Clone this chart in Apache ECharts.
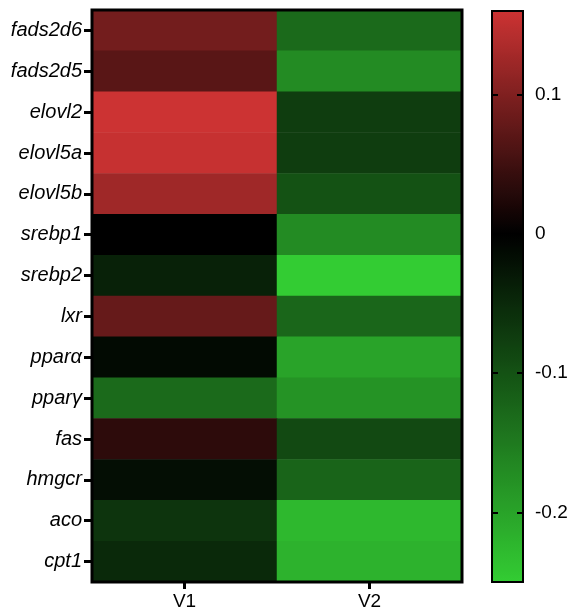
<!DOCTYPE html>
<html>
<head>
<meta charset="utf-8">
<script src="https://cdn.jsdelivr.net/npm/echarts@6/dist/echarts.min.js"></script>
<style>
html,body{margin:0;padding:0;background:#fff;}
#chart{width:572px;height:615px;}
</style>
</head>
<body>
<div id="chart"></div>
<script>
// ---- data ----
const genes = ['fads2d6','fads2d5','elovl2','elovl5a','elovl5b','srebp1','srebp2','lxr','pparα','pparγ','fas','hmgcr','aco','cpt1'];
const columns = ['V1','V2'];
const valuesV1 = [0.09, 0.07, 0.16, 0.155, 0.125, 0.0, -0.04, 0.08, -0.012, -0.13, 0.035, -0.018, -0.064, -0.05];
const valuesV2 = [-0.13, -0.17, -0.075, -0.075, -0.1, -0.17, -0.25, -0.125, -0.2, -0.18, -0.09, -0.122, -0.225, -0.218];
const scaleMin = -0.25;
const scaleMax = 0.16;
const tickStep = 0.1;
const tickMin = -0.3;
const tickMax = 0.2;

// ---- build ----
const heatData = [];
genes.forEach((g, i) => {
  heatData.push([0, i, valuesV1[i]]);
  heatData.push([1, i, valuesV2[i]]);
});

function colorAt(v) {
  let r, g, b;
  if (v >= 0) {
    const t = Math.min(1, v / scaleMax);
    r = 204 * t; g = 51 * t; b = 51 * t;
  } else {
    const t = Math.min(1, v / scaleMin);
    r = 51 * t; g = 204 * t; b = 51 * t;
  }
  return 'rgb(' + Math.round(r) + ',' + Math.round(g) + ',' + Math.round(b) + ')';
}
const nStops = 83;
const stops = [];
for (let i = 0; i < nStops; i++) {
  stops.push(colorAt(scaleMin + (scaleMax - scaleMin) * i / (nStops - 1)));
}

// colour-bar geometry; the tick axis spans a wider, rounded range on the same scale
const barTop = 11, barH = 571, barLeft = 492, barW = 31;
const pxPerUnit = barH / (scaleMax - scaleMin);
const tickTop = barTop - (tickMax - scaleMax) * pxPerUnit;
const tickH = (tickMax - tickMin) * pxPerUnit;

const FONT = "'Liberation Sans', Arial, sans-serif";
const chart = echarts.init(document.getElementById('chart'), null, {renderer: 'canvas'});
chart.setOption({
  backgroundColor: '#fff',
  animation: false,
  textStyle: {fontFamily: FONT},
  grid: [
    {left: 92, top: 10, width: 370, height: 572, show: true, borderColor: '#000', borderWidth: 3, backgroundColor: 'transparent', z: 10, outerBoundsMode: 'none', containLabel: false},
    {left: barLeft, top: barTop, width: barW, height: barH, show: true, borderColor: '#000', borderWidth: 2, backgroundColor: 'transparent', z: 10, outerBoundsMode: 'none', containLabel: false},
    {left: barLeft, top: tickTop, width: barW, height: tickH, show: false, z: 10, outerBoundsMode: 'none', containLabel: false}
  ],
  xAxis: [
    {type: 'category', gridIndex: 0, data: columns, position: 'bottom',
     axisLine: {show: false},
     axisTick: {show: true, alignWithLabel: true, length: 7, lineStyle: {color: '#000', width: 3}},
     axisLabel: {color: '#000', fontSize: 19, margin: 10, fontFamily: FONT},
     splitLine: {show: false}},
    {type: 'value', gridIndex: 1, show: false, min: 0, max: 1},
    {type: 'value', gridIndex: 2, show: false, min: 0, max: 1}
  ],
  yAxis: [
    {type: 'category', gridIndex: 0, data: genes, inverse: true,
     axisLine: {show: false},
     axisTick: {show: true, alignWithLabel: true, length: 8, lineStyle: {color: '#000', width: 3}},
     axisLabel: {color: '#000', fontSize: 20, fontStyle: 'italic', margin: 10, fontFamily: FONT},
     splitLine: {show: false}},
    {type: 'value', gridIndex: 1, show: false, min: scaleMin, max: scaleMax},
    {type: 'value', gridIndex: 2, min: tickMin, max: tickMax, interval: tickStep, position: 'right', z: 20,
     axisLine: {show: false, onZero: false},
     axisTick: {show: true, inside: true, length: 6, lineStyle: {color: '#000', width: 2}},
     axisLabel: {show: true, color: '#000', fontSize: 19, margin: 12, fontFamily: FONT,
       formatter: v => (v < scaleMin || v > scaleMax) ? '' : String(Math.round(v * 10) / 10)},
     splitLine: {show: false}},
    {type: 'value', gridIndex: 2, min: tickMin, max: tickMax, interval: tickStep, position: 'left', z: 20,
     axisLine: {show: false, onZero: false},
     axisTick: {show: true, inside: true, length: 6, lineStyle: {color: '#000', width: 2}},
     axisLabel: {show: false},
     splitLine: {show: false}}
  ],
  visualMap: {
    type: 'continuous',
    min: scaleMin, max: scaleMax,
    seriesIndex: 0,
    calculable: false,
    orient: 'vertical',
    left: barLeft, top: barTop,
    itemWidth: barW, itemHeight: barH,
    padding: 0,
    z: 1,
    text: null,
    showLabel: false,
    inRange: {color: stops}
  },
  series: [{
    type: 'heatmap',
    xAxisIndex: 0, yAxisIndex: 0,
    data: heatData,
    itemStyle: {borderWidth: 0},
    emphasis: {disabled: true}
  }]
});
</script>
</body>
</html>
